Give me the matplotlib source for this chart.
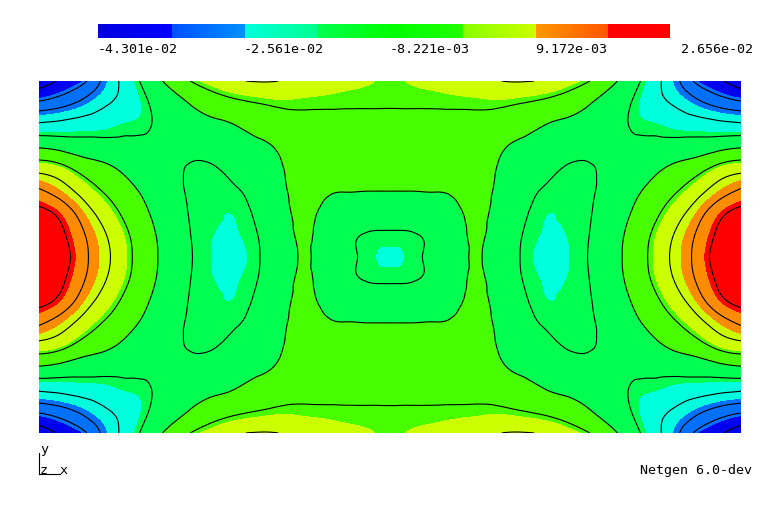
import numpy as np
import matplotlib
matplotlib.use("Agg")
import matplotlib.pyplot as plt
import matplotlib.tri as mtri
from matplotlib.colors import LinearSegmentedColormap

W, H = 780, 514

# values in units of 1e-2, read off one quarter of the domain (top left),
# the field is symmetric in x and y
row_0 = [-4.35, -3.85, -3.43, -2.65, -1.95, -1.23, -0.60, -0.08, 0.25, 0.52, 0.60, 0.56, 0.43, 0.29, 0.17, 0.09, -0.02]
row_1 = [-3.20, -2.99, -2.67, -2.30, -1.98, -1.52, -1.11, -0.75, -0.45, -0.25, -0.12, -0.03, -0.04, -0.06, -0.08, -0.09, -0.10]
row_2 = [-2.10, -2.02, -1.91, -1.81, -1.66, -1.55, -1.25, -1.07, -0.945, -0.81, -0.58, -0.40, -0.26, -0.25, -0.25, -0.24, -0.24]
row_3 = [-0.87, -1.02, -1.19, -1.27, -1.37, -1.40, -1.33, -1.34, -1.26, -1.08, -0.95, -0.72, -0.43, -0.42, -0.44, -0.43, -0.44]
row_4 = [0.36, 0.12, -0.36, -0.66, -0.97, -1.18, -1.37, -1.58, -1.55, -1.35, -1.10, -0.88, -0.56, -0.59, -0.63, -0.63, -0.63]
row_5 = [1.37, 0.917, 0.33, -0.19, -0.62, -0.97, -1.29, -1.60, -1.62, -1.55, -1.32, -0.96, -0.66, -0.76, -0.81, -0.82, -0.82]
row_6 = [2.15, 1.75, 0.95, 0.28, -0.32, -0.81, -1.20, -1.575, -1.67, -1.675, -1.42, -1.04, -0.71, -0.92, -1.08, -1.23, -1.25]
row_7 = [2.52, 2.10, 1.35, 0.62, -0.04, -0.655, -1.13, -1.545, -1.695, -1.71, -1.51, -1.12, -0.75, -1.06, -1.41, -1.55, -1.57]
row_8 = [2.656, 2.26, 1.48, 0.74, 0.05, -0.60, -1.09, -1.52, -1.71, -1.76, -1.545, -1.15, -0.78, -1.12, -1.44, -1.62, -1.75]

band_edges = [-4.301, -3.431, -2.561, -1.692, -0.822, 0.048, 0.917, 1.787, 2.656]
band_colors = ["#0000f0", "#0070ff", "#00ffdd", "#00ff50", "#48ff00", "#ccff00", "#ff8c00", "#ff0000"]
line_levels = [-3.95, -3.3, -2.8, -2.214, -1.518, -0.822, -0.127, 0.569, 1.265, 1.96]

# colorbar ramp, start and end colour of each band
bar_starts = ["#0000e0", "#0050ff", "#00ffdd", "#00ff50", "#00ff00", "#88ff00", "#ff9900", "#ff0000"]
bar_ends = ["#0000ff", "#0090ff", "#00ff90", "#00ff00", "#20ff00", "#ccff00", "#ff5500", "#ff0000"]
bar_labels = ["-4.301e-02", "-2.561e-02", "-8.221e-03", "9.172e-03", "2.656e-02"]

quarter = np.array([row_0, row_1, row_2, row_3, row_4, row_5, row_6, row_7, row_8])
half = np.hstack([quarter, quarter[:, -2::-1]])
field = np.vstack([half, half[-2::-1, :]])
ny, nx = field.shape
x = np.linspace(0, 2, nx)
y = np.linspace(1, 0, ny)
X, Y = np.meshgrid(x, y)

# cell diagonals mirrored about the centre, so the refined field stays symmetric
triangles = []
for j in range(ny - 1):
    for i in range(nx - 1):
        a = j * nx + i
        b, c, d = a + 1, a + nx, a + nx + 1
        if (i < (nx - 1) // 2) == (j < (ny - 1) // 2):
            triangles += [[a, b, d], [a, d, c]]
        else:
            triangles += [[a, b, c], [b, d, c]]

# smooth contours over the read values (matplotlib's own tri refiner)
triang = mtri.Triangulation(X.ravel(), Y.ravel(), triangles)
refiner = mtri.UniformTriRefiner(triang)
fine_tri, fine_field = refiner.refine_field(field.ravel(), subdiv=3)


def px_axes(left, top, right, bottom):
    return fig.add_axes([left / W, 1 - bottom / H, (right - left) / W, (bottom - top) / H])


fig = plt.figure(figsize=(W / 100, H / 100), dpi=100, facecolor="white")

# --- field ---
ax = px_axes(39, 81, 741, 433)
fill_levels = [-100] + band_edges[1:-1] + [100]
ax.tricontourf(fine_tri, fine_field, levels=fill_levels, colors=band_colors, antialiased=False)
ax.tricontour(fine_tri, fine_field, levels=line_levels, colors="black", linewidths=0.8, linestyles="solid")
ax.set_xlim(0, 2)
ax.set_ylim(0, 1)
ax.axis("off")

# --- colorbar: 73 px per band, the last one is cut off at the bar's end ---
n = len(band_colors)
step = 73 / 572
stops = []
for i in range(n):
    stops.append((i * step, bar_starts[i]))
    stops.append((min((i + 1) * step, 1.0), bar_ends[i]))
bar_cmap = LinearSegmentedColormap.from_list("bands", stops, N=1024)
cax = px_axes(98, 24, 670, 38)
ramp = np.linspace(0, 1, 572)[None, :]
cax.imshow(ramp, aspect="auto", cmap=bar_cmap, interpolation="nearest")
cax.axis("off")

# --- text and triad, in pixel coordinates ---
over = fig.add_axes([0, 0, 1, 1])
over.set_xlim(0, W)
over.set_ylim(H, 0)
over.axis("off")
over.patch.set_alpha(0)
txt = dict(family="DejaVu Sans Mono", fontsize=9.6, color="black", ha="left", va="baseline")
for i, label in enumerate(bar_labels):
    over.text(98 + i * 145.8, 53, label, **txt)
over.text(640, 474, "Netgen 6.0-dev", **txt)
over.plot([39, 39], [453, 474], color="black", lw=0.8)
over.plot([39, 60], [474, 474], color="black", lw=0.8)
over.text(40, 453, "y", **txt)
over.text(40, 474, "z", **txt)
over.text(60, 474, "x", **txt)

fig.savefig("out.png", dpi=100)
